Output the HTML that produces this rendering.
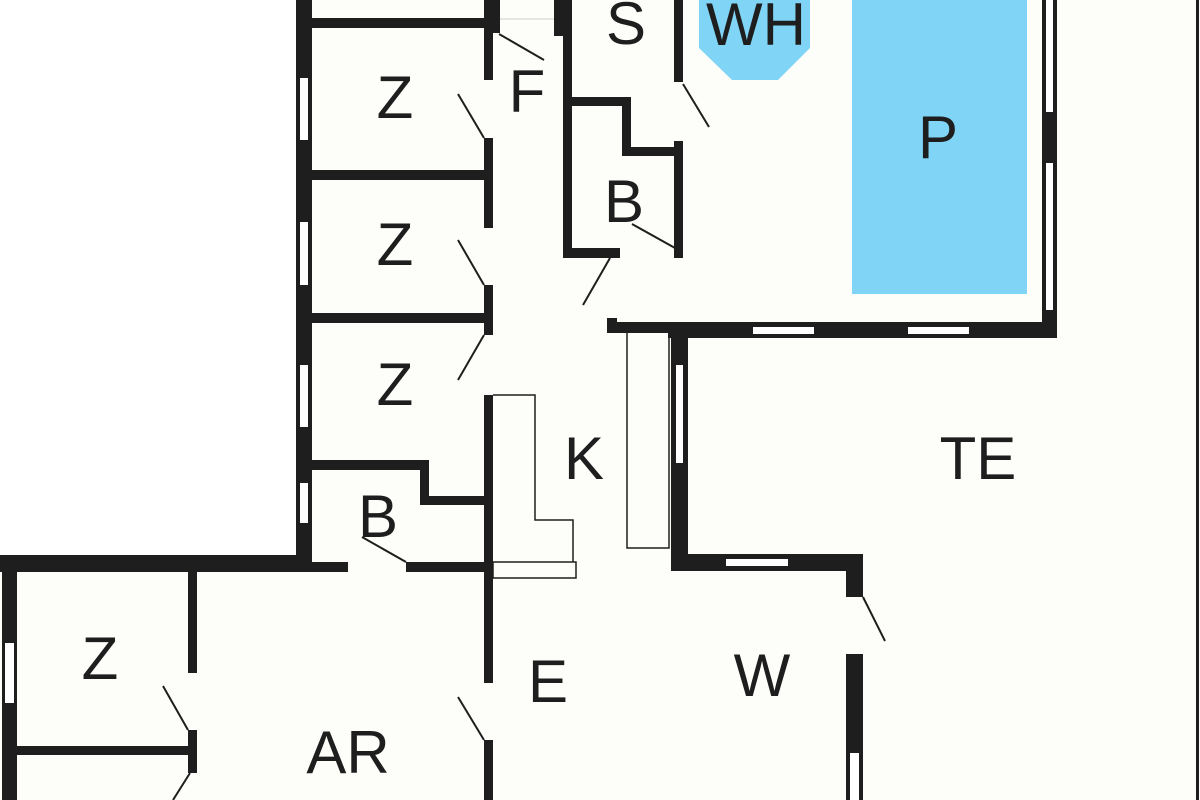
<!DOCTYPE html>
<html><head><meta charset="utf-8"><style>
html,body{margin:0;padding:0;background:#fdfdf9;}
svg{display:block}
text{font-family:"Liberation Sans",Arial,sans-serif;font-size:60px;fill:#1e1e1e;text-anchor:middle}
</style></head><body>
<svg width="1200" height="800" viewBox="0 0 1200 800" xmlns="http://www.w3.org/2000/svg">
<rect x="0" y="0" width="1200" height="800" fill="#fdfdf9"/>
<rect x="0" y="0" width="296" height="555" fill="#ffffff"/>
<!-- pool & whirlpool -->
<rect x="852" y="0" width="175" height="294" fill="#80d4f5"/>
<polygon points="699,0 810,0 810,48 778,80 732,80 699,48" fill="#80d4f5"/>
<g fill="#1e1e1e">
<!-- Z column -->
<rect x="296" y="0" width="16" height="572"/>
<rect x="312" y="18" width="172" height="10"/>
<rect x="312" y="170" width="172" height="10"/>
<rect x="312" y="313" width="172" height="10"/>
<rect x="312" y="460" width="117" height="10"/>
<rect x="420" y="460" width="9" height="45"/>
<rect x="420" y="496" width="64" height="9"/>
<rect x="484" y="0" width="16" height="33"/>
<rect x="484" y="0" width="9" height="80"/>
<rect x="484" y="138" width="9" height="90"/>
<rect x="484" y="285" width="9" height="50"/>
<rect x="484" y="395" width="9" height="288"/>
<rect x="484" y="740" width="9" height="60"/>
<!-- lower-left -->
<rect x="0" y="555" width="300" height="17"/>
<rect x="2" y="555" width="15" height="245"/>
<rect x="188" y="572" width="9" height="101"/>
<rect x="17" y="746" width="180" height="9"/>
<rect x="188" y="730" width="9" height="43"/>
<rect x="296" y="562" width="52" height="10"/>
<rect x="406" y="562" width="78" height="10"/>
<!-- S / B upper -->
<rect x="554" y="0" width="18" height="36"/>
<rect x="563" y="0" width="9" height="258"/>
<rect x="563" y="97" width="68" height="9"/>
<rect x="622" y="97" width="9" height="59"/>
<rect x="622" y="147" width="61" height="9"/>
<rect x="674" y="141" width="9" height="117"/>
<rect x="674" y="0" width="9" height="82"/>
<rect x="563" y="248" width="57" height="10"/>
<!-- pool room walls -->
<rect x="607" y="318" width="10" height="15"/>
<rect x="607" y="322" width="450" height="11"/>
<rect x="668" y="322" width="389" height="16"/>
<rect x="1042" y="0" width="15" height="338"/>
<!-- TE / W walls -->
<rect x="671" y="333" width="17" height="238"/>
<rect x="671" y="554" width="192" height="17"/>
<rect x="846" y="554" width="17" height="43"/>
<rect x="846" y="654" width="17" height="146"/>
<rect x="1196" y="0" width="3" height="800"/>
</g>
<!-- windows -->
<g fill="#ffffff">
<rect x="300" y="78" width="8" height="62"/>
<rect x="300" y="222" width="8" height="63"/>
<rect x="300" y="365" width="8" height="62"/>
<rect x="300" y="483" width="8" height="40"/>
<rect x="5" y="643" width="9" height="60"/>
<rect x="1046" y="0" width="7" height="112"/>
<rect x="1046" y="163" width="7" height="147"/>
<rect x="753" y="327" width="61" height="7"/>
<rect x="908" y="327" width="61" height="7"/>
<rect x="676" y="365" width="7" height="98"/>
<rect x="726" y="559" width="62" height="7"/>
<rect x="850" y="753" width="9" height="47"/>
</g>
<!-- counters -->
<g fill="none" stroke="#1e1e1e" stroke-width="1.5">
<polyline points="493,395 535,395 535,520 573,520 573,562"/>
<rect x="493" y="562" width="83" height="16"/>
<rect x="627" y="332" width="42" height="216"/>
<line x1="500" y1="19" x2="554" y2="19" stroke="#ddd"/>
</g>
<!-- door swings -->
<g stroke="#1e1e1e" stroke-width="2">
<line x1="499" y1="34" x2="544" y2="60"/>
<line x1="458" y1="94" x2="484" y2="138"/>
<line x1="458" y1="240" x2="484" y2="285"/>
<line x1="484" y1="335" x2="458" y2="380"/>
<line x1="362" y1="537" x2="406" y2="562"/>
<line x1="163" y1="686" x2="188" y2="730"/>
<line x1="190" y1="773" x2="173" y2="800"/>
<line x1="458" y1="697" x2="484" y2="740"/>
<line x1="683" y1="84" x2="709" y2="127"/>
<line x1="632" y1="224" x2="675" y2="248"/>
<line x1="610" y1="258" x2="583" y2="305"/>
<line x1="863" y1="597" x2="885" y2="641"/>
</g>
<!-- labels -->
<text x="395" y="118">Z</text>
<text x="395" y="265">Z</text>
<text x="395" y="405">Z</text>
<text x="527" y="112">F</text>
<text x="626" y="44">S</text>
<text x="756" y="45">WH</text>
<text x="624" y="222">B</text>
<text x="938" y="158">P</text>
<text x="584" y="479">K</text>
<text x="978" y="479">TE</text>
<text x="378" y="537">B</text>
<text x="100" y="679">Z</text>
<text x="348" y="773">AR</text>
<text x="548" y="702">E</text>
<text x="762" y="696">W</text>
</svg>
</body></html>
